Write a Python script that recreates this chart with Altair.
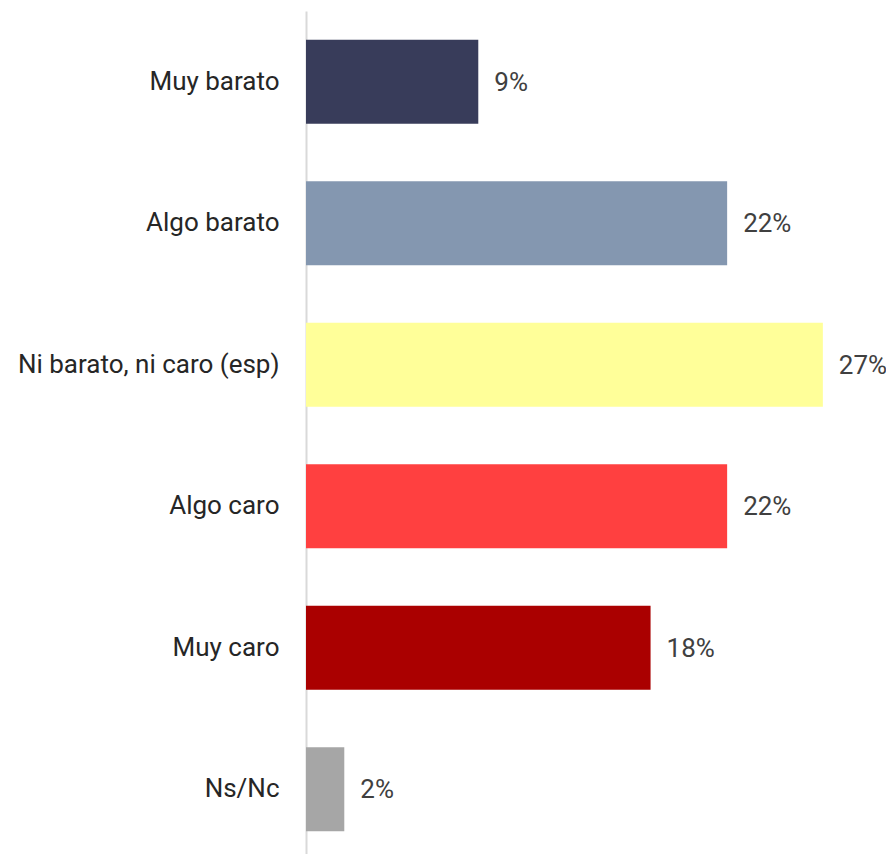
import altair as alt
import pandas as pd

categories = ["Muy barato", "Algo barato", "Ni barato, ni caro (esp)", "Algo caro", "Muy caro", "Ns/Nc"]
values = [9, 22, 27, 22, 18, 2]
colors = ["#383c5a", "#8497b0", "#ffff99", "#ff4040", "#aa0000", "#a6a6a6"]

df = pd.DataFrame({"cat": categories, "val": values, "label": [f"{v}%" for v in values]})

FONT = "Roboto"
FS = 26

y = alt.Y("cat:N", sort=categories, title=None,
          scale=alt.Scale(paddingInner=0.406, paddingOuter=0.203),
          axis=alt.Axis(ticks=False, domain=True, domainColor="#d9d9d9", domainWidth=2,
                        labelFont=FONT, labelFontSize=FS, labelColor="#262626",
                        labelPadding=27, labelLimit=400, grid=False))
x = alt.X("val:Q", title=None, scale=alt.Scale(domain=[0, 28], nice=False),
          axis=None)

bars = alt.Chart(df).mark_bar().encode(
    x=x, y=y,
    color=alt.Color("cat:N", scale=alt.Scale(domain=categories, range=colors), legend=None),
)
text = alt.Chart(df).mark_text(align="left", baseline="middle", dx=16, dy=1, font=FONT,
                               fontSize=FS, color="#404040").encode(
    x=x, y=alt.Y("cat:N", sort=categories), text="label:N")

chart = (bars + text).properties(
    width=536, height=849,
    autosize=alt.AutoSizeParams(type="none"),
    padding={"left": 298, "top": 3, "right": 44, "bottom": 0},
).configure_view(stroke=None)

chart.save("out.html", embed_options={"renderer": "svg", "actions": False})
